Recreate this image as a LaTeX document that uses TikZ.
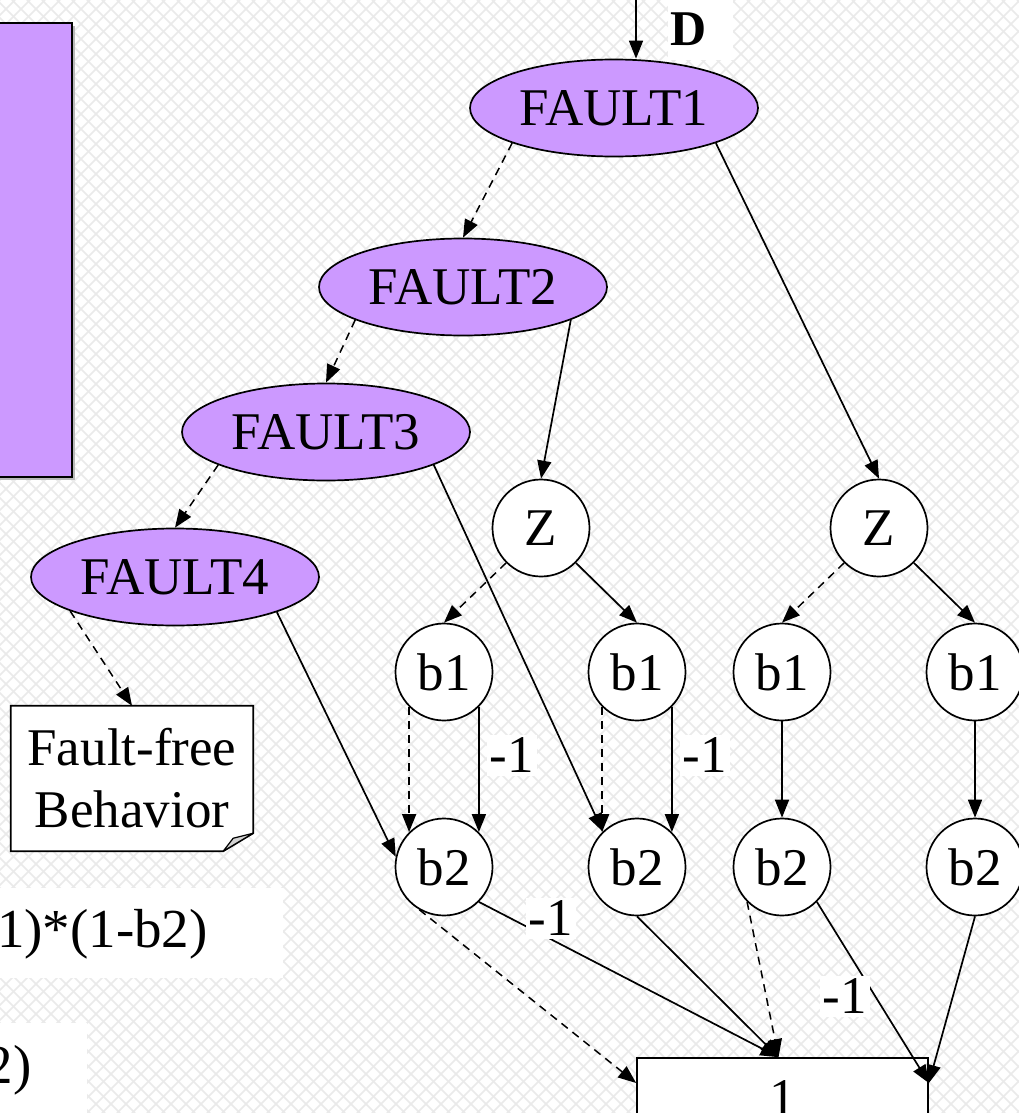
\documentclass[tikz,border=0pt]{standalone}
\usepackage{fontspec}
\setmainfont{Liberation Serif}
\usetikzlibrary{shapes.geometric,arrows.meta,calc}
\definecolor{faultpurple}{RGB}{204,153,255}
\definecolor{hatchgray}{RGB}{234,234,234}
\pgfdeclarelayer{paper}
\pgfdeclarelayer{under}
\pgfsetlayers{paper,under,main}
\begin{document}
\begin{tikzpicture}[x=1pt,y=-1pt,
  every node/.style={font=\fontsize{53pt}{62pt}\selectfont},
  edgeline/.style={line width=1.7pt,-{Triangle[length=18pt,width=14pt]}},
  hiedge/.style={edgeline},
  loedge/.style={edgeline,line width=1.5pt,dash pattern=on 8pt off 6pt},
  fault/.style={ellipse,draw,line width=1.7pt,fill=faultpurple,
    minimum width=288pt,minimum height=97pt,inner sep=0pt},
  var/.style={circle,draw,line width=1.7pt,fill=white,
    minimum size=97pt,inner sep=0pt},
  weight/.style={fill=white,inner sep=3pt},
  sidetext/.style={font=\fontsize{55pt}{62pt}\selectfont,inner sep=0pt},
]
\useasboundingbox (0,0) rectangle (1019,1113);

% cross-hatched paper and white text backdrops
\begin{pgfonlayer}{paper}
  \fill[white] (0,0) rectangle (1019,1113);
  \begin{scope}
    \clip (0,0) rectangle (1019,1113);
    \foreach \c in {0,15,...,2145} {
      \draw[hatchgray,line width=1.6pt] (\c,0) -- ++(-1113,1113);
      \draw[hatchgray,line width=1.6pt] (\c-1113,0) -- ++(1113,1113);
    }
  \end{scope}
  \fill[white] (668,0) rectangle (733,60);
  \fill[white] (-10,888) rectangle (283,978);
  \fill[white] (-10,1023) rectangle (87,1120);
\end{pgfonlayer}

% purple side panel
\fill[gray!55] (-20,26) rectangle (75,480);
\draw[line width=1.7pt,fill=faultpurple] (-20,23) rectangle (72,477);

% side formulas
\node[sidetext,anchor=base east] (eqa) at (208,947) {1)*(1-b2)};
\node[sidetext,anchor=base east] (eqb) at (32,1083) {2)};

% fault chain
\node[fault] (F1) at (614,108) {FAULT1};
\node[fault] (F2) at (463,287) {FAULT2};
\node[fault] (F3) at (326,432) {FAULT3};
\node[fault] (F4) at (175,577) {FAULT4};

% input marker
\coordinate (Din) at (636,0);
\node[anchor=west,inner sep=0pt,font=\bfseries\fontsize{50pt}{60pt}\selectfont] (Dlab) at (670,29) {D};
\draw[hiedge] (Din) -- (F1.north -| Din);

% fault-free note with folded corner
\node[minimum width=242pt,minimum height=145pt,align=center,inner sep=0pt] (FF) at (132,778.5) {Fault-free\\Behavior};
\begin{pgfonlayer}{under}
  \draw[line width=1.7pt,fill=white] (FF.north west) -- (FF.north east)
    -- ($(FF.south east)+(0,-18)$) -- ($(FF.south east)+(-30,0)$)
    -- (FF.south west) -- cycle;
\end{pgfonlayer}
\filldraw[fill=gray!35,line width=1.2pt,line join=round] ($(FF.south east)+(0,-18)$)
  -- ($(FF.south east)+(-30,0)$) -- ($(FF.south east)+(-20,-13)$) -- cycle;

% decision nodes
\node[var] (Z1) at (541,528) {Z};
\node[var] (Z2) at (879,528) {Z};
\node[var] (b1a) at (444,672) {b1};
\node[var] (b1b) at (637,672) {b1};
\node[var] (b1c) at (782,672) {b1};
\node[var] (b1d) at (975,672) {b1};
\node[var] (b2a) at (444,867) {b2};
\node[var] (b2b) at (637,867) {b2};
\node[var] (b2c) at (782,867) {b2};
\node[var] (b2d) at (975,867) {b2};

% terminal
\node[draw,line width=1.7pt,fill=white,minimum width=291pt,minimum height=80pt,inner sep=0pt] (one) at (782.5,1098) {1};

% edges between faults
\draw[loedge] (F1.199) -- (F2.north);
\draw[hiedge] (F1.-19) -- (Z2.north);
\draw[loedge] (F2.197) -- (F3.north);
\draw[hiedge] (F2.-17) -- (Z1.north);
\draw[loedge] (F3.197) -- (F4.north);
\draw[hiedge] (F3.-17) -- (b2b.134);
\draw[loedge] (F4.198) -- (FF.north);
\draw[hiedge] (F4.-19) -- (b2a.168);

% Z to b1
\draw[loedge] (Z1.225) -- (b1a.north);
\draw[hiedge] (Z1.-45) -- (b1b.north);
\draw[loedge] (Z2.225) -- (b1c.north);
\draw[hiedge] (Z2.-45) -- (b1d.north);

% b1 to b2
\draw[loedge] (b1a.225) -- (b2a.135);
\draw[hiedge] (b1a.-45) -- (b2a.45);
\draw[loedge] (b1b.225) -- (b2b.135);
\draw[hiedge] (b1b.-45) -- (b2b.45);
\draw[hiedge] (b1c.south) -- (b2c.north);
\draw[hiedge] (b1d.south) -- (b2d.north);

% b2 to terminal
\draw[loedge] (b2a.240) -- ([yshift=15pt]one.west);
\draw[hiedge] (b2a.-45) -- ([xshift=-4pt]one.north);
\draw[hiedge] (b2b.south) -- ([xshift=-4pt]one.north);
\draw[loedge] (b2c.225) -- ([xshift=-4pt]one.north);
\draw[hiedge] (b2c.-45) -- ([yshift=15pt]one.east);
\draw[hiedge] (b2d.south) -- ([yshift=15pt]one.east);

% edge weights
\node[weight] (w1) at (512,755) {-1};
\node[weight] (w2) at (705,755) {-1};
\node[weight] (w3) at (551,918) {-1};
\node[weight] (w4) at (845,996) {-1};
\end{tikzpicture}
\end{document}
